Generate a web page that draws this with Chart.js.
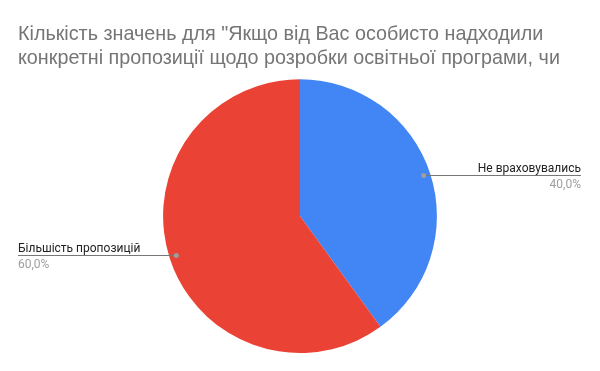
<!DOCTYPE html>
<html>
<head>
<meta charset="utf-8">
<script src="https://cdn.jsdelivr.net/npm/chart.js@4"></script>
<style>
  html, body { margin: 0; padding: 0; background: #fff; }
  #wrap { width: 600px; height: 371px; }
</style>
</head>
<body>
<div id="wrap"><canvas id="myChart"></canvas></div>
<script>
const titleLines = [
    'Кількість значень для "Якщо від Вас особисто надходили',
    'конкретні пропозиції щодо розробки освітньої програми, чи'
];
const categories = ['Не враховувались', 'Більшість пропозицій'];
const values = [40, 60];
const colors = ['#4285F4', '#EA4335'];

// Підписи з лініями-виносками
const calloutPlugin = {
    id: 'callouts',
    afterDatasetsDraw(chart) {
        const ctx = chart.ctx;
        const meta = chart.getDatasetMeta(0);
        const total = values.reduce((a, b) => a + b, 0);
        meta.data.forEach((arc, i) => {
            const mid = (arc.startAngle + arc.endAngle) / 2;
            const r = arc.outerRadius * 0.95;
            const dx = arc.x + Math.cos(mid) * r;
            const dy = arc.y + Math.sin(mid) * r;
            const right = Math.cos(mid) >= 0;
            const endX = right ? 581 : 18;
            const ly = Math.round(dy) - 0.5;

            ctx.save();
            ctx.strokeStyle = '#777';
            ctx.lineWidth = 1;
            ctx.beginPath();
            ctx.moveTo(dx, ly);
            ctx.lineTo(endX, ly);
            ctx.stroke();

            ctx.fillStyle = '#9e9e9e';
            ctx.beginPath();
            ctx.arc(dx, ly, 2.5, 0, Math.PI * 2);
            ctx.fill();

            ctx.textAlign = right ? 'right' : 'left';
            ctx.font = '12px Roboto';
            ctx.fillStyle = '#222';
            ctx.textBaseline = 'alphabetic';
            ctx.fillText(categories[i], endX, Math.round(dy) - 4);
            ctx.fillStyle = '#9e9e9e';
            ctx.textBaseline = 'top';
            const pct = (values[i] / total * 100).toFixed(1).replace('.', ',') + '%';
            ctx.fillText(pct, endX, Math.round(dy) + 3);
            ctx.restore();
        });
    }
};

const chart = new Chart(document.getElementById('myChart'), {
    type: 'pie',
    data: {
        labels: categories,
        datasets: [{
            data: values,
            backgroundColor: colors,
            borderWidth: 0
        }]
    },
    options: {
        responsive: true,
        maintainAspectRatio: false,
        animation: false,
        layout: { padding: { left: 18, right: 18, top: 0, bottom: 18 } },
        plugins: {
            legend: { display: false },
            tooltip: { enabled: false },
            title: {
                display: true,
                text: titleLines,
                align: 'start',
                color: '#757575',
                font: { family: '"Liberation Sans", Arial', size: 19.75, weight: 'normal', lineHeight: 1.22 },
                padding: { top: 22, bottom: 9 }
            }
        }
    },
    plugins: [calloutPlugin]
});
</script>
</body>
</html>
